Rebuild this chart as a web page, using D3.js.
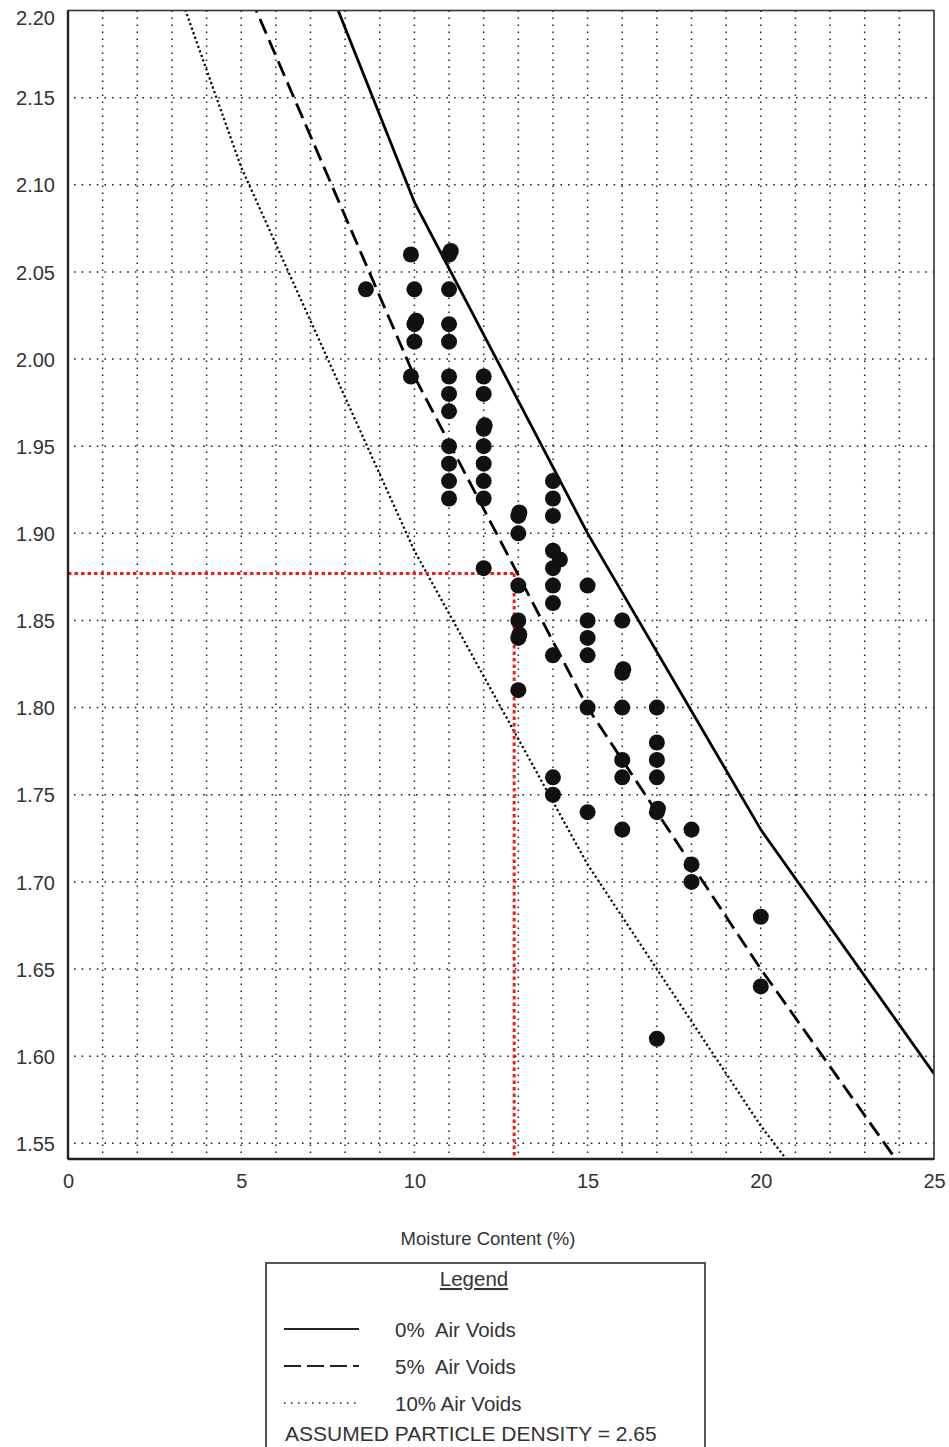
<!DOCTYPE html>
<html>
<head>
<meta charset="utf-8">
<script src="https://cdn.jsdelivr.net/npm/d3@7"></script>
<style>
  body { margin: 0; background: #fff; }
  svg { display: block; font-family: "Liberation Sans", Arial, sans-serif; }
</style>
</head>
<body>
<script>
// ---------- data ----------
const xTicks = [0, 5, 10, 15, 20, 25];
const yTicks = [1.55, 1.60, 1.65, 1.70, 1.75, 1.80, 1.85, 1.90, 1.95, 2.00, 2.05, 2.10, 2.15, 2.20];

// air-void curves (moisture %, dry density)
const curveMoisture = [0, 5, 10, 15, 20, 25];
const airVoids0  = [2.65, 2.34, 2.09, 1.90, 1.73, 1.59];
const airVoids5  = [2.52, 2.22, 1.99, 1.80, 1.65, 1.51];
const airVoids10 = [2.39, 2.11, 1.89, 1.71, 1.56, 1.43];

// test results
const pointMoisture = [
  9.9, 11, 11.05, 8.6, 10, 11, 10, 10.05, 11, 10, 11,
  9.9, 11, 12, 11, 12, 11, 12, 12.03, 11, 12, 11, 12, 11, 12, 11, 12,
  14, 14, 14, 13, 13.03, 13, 14, 14, 14.2, 12,
  13, 14, 15, 14, 13, 15, 16, 13, 13.03, 15, 14, 15, 16, 16.03, 13,
  15, 16, 17, 17, 16, 17, 14, 16, 17, 14, 15, 17, 17.03, 16, 18, 18, 18, 20, 20, 17
];
const pointDensity = [
  2.06, 2.06, 2.062, 2.04, 2.04, 2.04, 2.02, 2.022, 2.02, 2.01, 2.01,
  1.99, 1.99, 1.99, 1.98, 1.98, 1.97, 1.96, 1.962, 1.95, 1.95, 1.94, 1.94, 1.93, 1.93, 1.92, 1.92,
  1.93, 1.92, 1.91, 1.91, 1.912, 1.90, 1.89, 1.88, 1.885, 1.88,
  1.87, 1.87, 1.87, 1.86, 1.85, 1.85, 1.85, 1.84, 1.842, 1.84, 1.83, 1.83, 1.82, 1.822, 1.81,
  1.80, 1.80, 1.80, 1.78, 1.77, 1.77, 1.76, 1.76, 1.76, 1.75, 1.74, 1.74, 1.742, 1.73, 1.73, 1.71, 1.70, 1.68, 1.64, 1.61
];

// reference reading (red dotted)
const refMoisture = 12.88;
const refDensity = 1.877;

const legendLabels = ["0%  Air Voids", "5%  Air Voids", "10% Air Voids"];
const densityNote = "ASSUMED PARTICLE DENSITY = 2.65";

// ---------- layout ----------
const W = 949, H = 1447;
const L = 68, R = 934, T = 10.5, B = 1159;
const FONT = "'Liberation Sans', Arial, sans-serif";

const svg = d3.select("body").append("svg").attr("width", W).attr("height", H);

const x = d3.scaleLinear().domain([0, 25]).range([L, R]);
const y = d3.scaleLinear().domain([1.541, 2.20]).range([B, T]);

// grid
const grid = svg.append("g");
grid.selectAll("line.v").data(d3.range(1, 25)).join("line")
  .attr("x1", d => x(d)).attr("x2", d => x(d))
  .attr("y1", T).attr("y2", B)
  .attr("stroke", "#222").attr("stroke-width", 1.5)
  .attr("stroke-dasharray", "1.6,5.4");
grid.selectAll("line.h").data(yTicks.filter(d => d < 2.199)).join("line")
  .attr("x1", L + 6).attr("x2", R)
  .attr("y1", d => y(d)).attr("y2", d => y(d))
  .attr("stroke", "#222").attr("stroke-width", 1.5)
  .attr("stroke-dasharray", "1.6,6");

// clip
svg.append("clipPath").attr("id", "clip").append("rect")
  .attr("x", L).attr("y", T).attr("width", R - L).attr("height", B - T);

const line = d3.line().x(d => x(d[0])).y(d => y(d[1]));
const curves = [
  { vals: airVoids0, dash: null, w: 2.8 },
  { vals: airVoids5, dash: "16,7", w: 2.8 },
  { vals: airVoids10, dash: "2.2,2.6", w: 2.2 }
];
const plot = svg.append("g").attr("clip-path", "url(#clip)");
curves.forEach(c => {
  plot.append("path")
    .datum(curveMoisture.map((m, i) => [m, c.vals[i]]))
    .attr("d", line)
    .attr("fill", "none").attr("stroke", "#000")
    .attr("stroke-width", c.w)
    .attr("stroke-dasharray", c.dash);
});

// red reference lines
plot.append("line")
  .attr("x1", x(0)).attr("x2", x(refMoisture))
  .attr("y1", y(refDensity)).attr("y2", y(refDensity))
  .attr("stroke", "#e8201f").attr("stroke-width", 3).attr("stroke-dasharray", "3.5,3");
plot.append("line")
  .attr("x1", x(refMoisture)).attr("x2", x(refMoisture))
  .attr("y1", y(refDensity)).attr("y2", B)
  .attr("stroke", "#e8201f").attr("stroke-width", 3).attr("stroke-dasharray", "3.5,3");

// points
plot.selectAll("circle").data(pointMoisture.map((m, i) => [m, pointDensity[i]])).join("circle")
  .attr("cx", d => x(d[0])).attr("cy", d => y(d[1]))
  .attr("r", 8).attr("fill", "#111");

// frame
svg.append("rect").attr("x", L).attr("y", T).attr("width", R - L).attr("height", B - T)
  .attr("fill", "none").attr("stroke", "#333").attr("stroke-width", 1.6);
svg.append("line").attr("x1", L).attr("x2", L).attr("y1", T).attr("y2", B)
  .attr("stroke", "#222").attr("stroke-width", 2.4);
svg.append("line").attr("x1", L).attr("x2", R).attr("y1", B).attr("y2", B)
  .attr("stroke", "#222").attr("stroke-width", 2.4);

// axes
const yAxis = d3.axisLeft(y).tickValues(yTicks).tickFormat(d3.format(".2f")).tickSize(0).tickPadding(13);
const gy = svg.append("g").attr("transform", `translate(${L},0)`).call(yAxis);
gy.select(".domain").remove();
gy.selectAll("text").attr("font-size", 20).attr("fill", "#333").attr("font-family", FONT)
  .attr("dy", d => d > 2.199 ? "0.72em" : "0.36em");

const xAxis = d3.axisBottom(x).tickValues(xTicks).tickFormat(d3.format("d")).tickSize(0).tickPadding(15);
const gx = svg.append("g").attr("transform", `translate(0,${B})`).call(xAxis);
gx.select(".domain").remove();
gx.selectAll("text").attr("font-size", 20).attr("fill", "#333").attr("font-family", FONT);

svg.append("text").attr("x", 488).attr("y", 1245).attr("text-anchor", "middle")
  .attr("font-size", 18.5).attr("fill", "#333").attr("font-family", FONT).text("Moisture Content (%)");

// legend
const lg = svg.append("g").attr("font-family", FONT);
lg.append("rect").attr("x", 266).attr("y", 1263).attr("width", 439).attr("height", 200)
  .attr("fill", "#fff").attr("stroke", "#444").attr("stroke-width", 1.8);
lg.append("text").attr("x", 474).attr("y", 1286).attr("text-anchor", "middle")
  .attr("font-size", 20.5).attr("fill", "#333").attr("text-decoration", "underline").text("Legend");
const ly = [1329, 1366, 1403];
curves.forEach((c, i) => {
  lg.append("line").attr("x1", 284).attr("x2", 359).attr("y1", ly[i]).attr("y2", ly[i])
    .attr("stroke", "#222").attr("stroke-width", i === 2 ? 1.4 : 2)
    .attr("stroke-dasharray", i === 1 ? "17,6" : (i === 2 ? "1.5,5.5" : null));
  lg.append("text").attr("x", 395).attr("y", ly[i] + 7.5).attr("font-size", 20.5).attr("fill", "#333")
    .style("white-space", "pre").text(legendLabels[i]);
});
lg.append("text").attr("x", 285).attr("y", 1441).attr("font-size", 21).attr("fill", "#333")
  .text(densityNote);
</script>
</body>
</html>
